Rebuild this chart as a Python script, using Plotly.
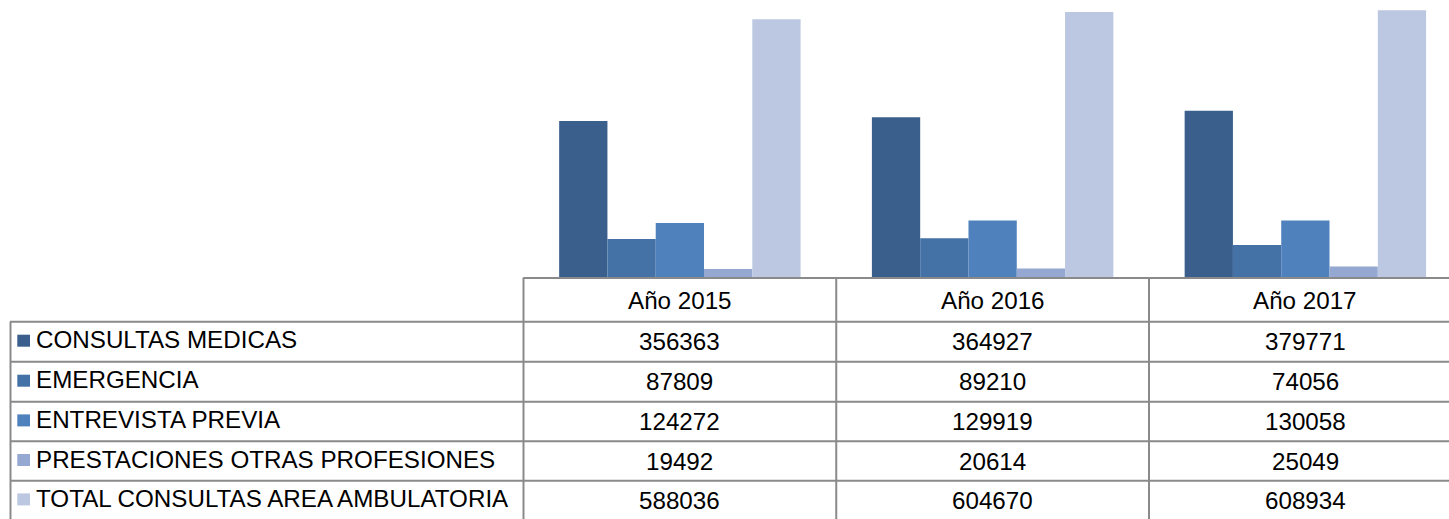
import plotly.graph_objects as go

years = ["Año 2015", "Año 2016", "Año 2017"]
series_names = ["CONSULTAS MEDICAS", "EMERGENCIA", "ENTREVISTA PREVIA",
                "PRESTACIONES OTRAS PROFESIONES", "TOTAL CONSULTAS AREA AMBULATORIA"]
consultas_medicas = [356363, 364927, 379771]
emergencia = [87809, 89210, 74056]
entrevista_previa = [124272, 129919, 130058]
prestaciones_otras = [19492, 20614, 25049]
total_ambulatoria = [588036, 604670, 608934]
colors = ["#3B5F8D", "#4472A7", "#4F81BD", "#94A8D2", "#BCC8E1"]

series_values = [consultas_medicas, emergencia, entrevista_previa,
                 prestaciones_otras, total_ambulatoria]

W, H = 1449, 519
FONT = "Liberation Sans, Arial, sans-serif"
FS = 24.2
LINE = "#8a8a8a"

def px_x(p):
    return p / W

def px_y(p):
    return 1 - p / H

plot_left = 523.5
plot_bottom = 277.5
cat_w = 312.75
span = (W - plot_left) / cat_w
px_per_unit = 0.000439

fig = go.Figure()
xs = list(range(len(years)))
for name, vals, col in zip(series_names, series_values, colors):
    fig.add_trace(go.Bar(x=xs, y=vals, name=name, marker=dict(color=col, line=dict(width=0)),
                         showlegend=False, hoverinfo="y"))

fig.update_layout(
    width=W, height=H,
    margin=dict(l=0, r=0, t=0, b=0, autoexpand=False),
    paper_bgcolor="white", plot_bgcolor="white",
    barmode="group", bargap=0.228, bargroupgap=0,
    xaxis=dict(domain=[px_x(plot_left), 1], range=[-0.5, -0.5 + span],
               showticklabels=False, showgrid=False, zeroline=False, showline=False,
               fixedrange=True),
    yaxis=dict(domain=[px_y(plot_bottom), 1], range=[0, plot_bottom / px_per_unit],
               showticklabels=False, showgrid=False, zeroline=False, showline=False,
               fixedrange=True),
)

shapes = []
row_lines = [321.7, 361.7, 401.7, 441.2, 480.8]
row_centers = [341.7, 381.7, 421.4, 461.0, 500.4]
header_center = 300.0
shapes.append(dict(type="line", xref="paper", yref="paper",
                   x0=px_x(plot_left), x1=1, y0=px_y(plot_bottom + 0.5), y1=px_y(plot_bottom + 0.5),
                   line=dict(color=LINE, width=2)))
for ly in row_lines:
    shapes.append(dict(type="line", xref="paper", yref="paper",
                       x0=px_x(10), x1=1, y0=px_y(ly), y1=px_y(ly),
                       line=dict(color=LINE, width=2)))
shapes.append(dict(type="line", xref="paper", yref="paper",
                   x0=px_x(plot_left), x1=px_x(plot_left), y0=px_y(plot_bottom), y1=0,
                   line=dict(color=LINE, width=2)))
shapes.append(dict(type="line", xref="paper", yref="paper",
                   x0=px_x(10.5), x1=px_x(10.5), y0=px_y(row_lines[0]), y1=0,
                   line=dict(color=LINE, width=2)))
for i in range(1, len(years)):
    shapes.append(dict(type="line", xref="x", yref="paper",
                       x0=i - 0.5, x1=i - 0.5, y0=px_y(plot_bottom), y1=0,
                       line=dict(color=LINE, width=2)))

annotations = []
for i, yr in enumerate(years):
    annotations.append(dict(x=i, y=px_y(header_center), xref="x", yref="paper",
                            text=yr, showarrow=False, xanchor="center", yanchor="middle",
                            font=dict(family=FONT, size=FS, color="black")))
for r, (name, vals, col) in enumerate(zip(series_names, series_values, colors)):
    cy = row_centers[r]
    shapes.append(dict(type="rect", xref="paper", yref="paper",
                       x0=px_x(17.3), x1=px_x(30), y0=px_y(cy - 7.5 + 0.5), y1=px_y(cy + 5),
                       fillcolor=col, line=dict(width=0)))
    annotations.append(dict(x=px_x(34), y=px_y(cy - 2), xref="paper", yref="paper",
                            text=name, showarrow=False, xanchor="left", yanchor="middle",
                            font=dict(family=FONT, size=FS, color="black")))
    for i, v in enumerate(vals):
        annotations.append(dict(x=i, y=px_y(cy), xref="x", yref="paper",
                                text=str(v), showarrow=False, xanchor="center", yanchor="middle",
                                font=dict(family=FONT, size=FS, color="black")))

fig.update_layout(shapes=shapes, annotations=annotations)
fig.write_html("out.html", config={"displayModeBar": False},
               post_script="document.body.style.margin='0';document.body.style.padding='0';")
